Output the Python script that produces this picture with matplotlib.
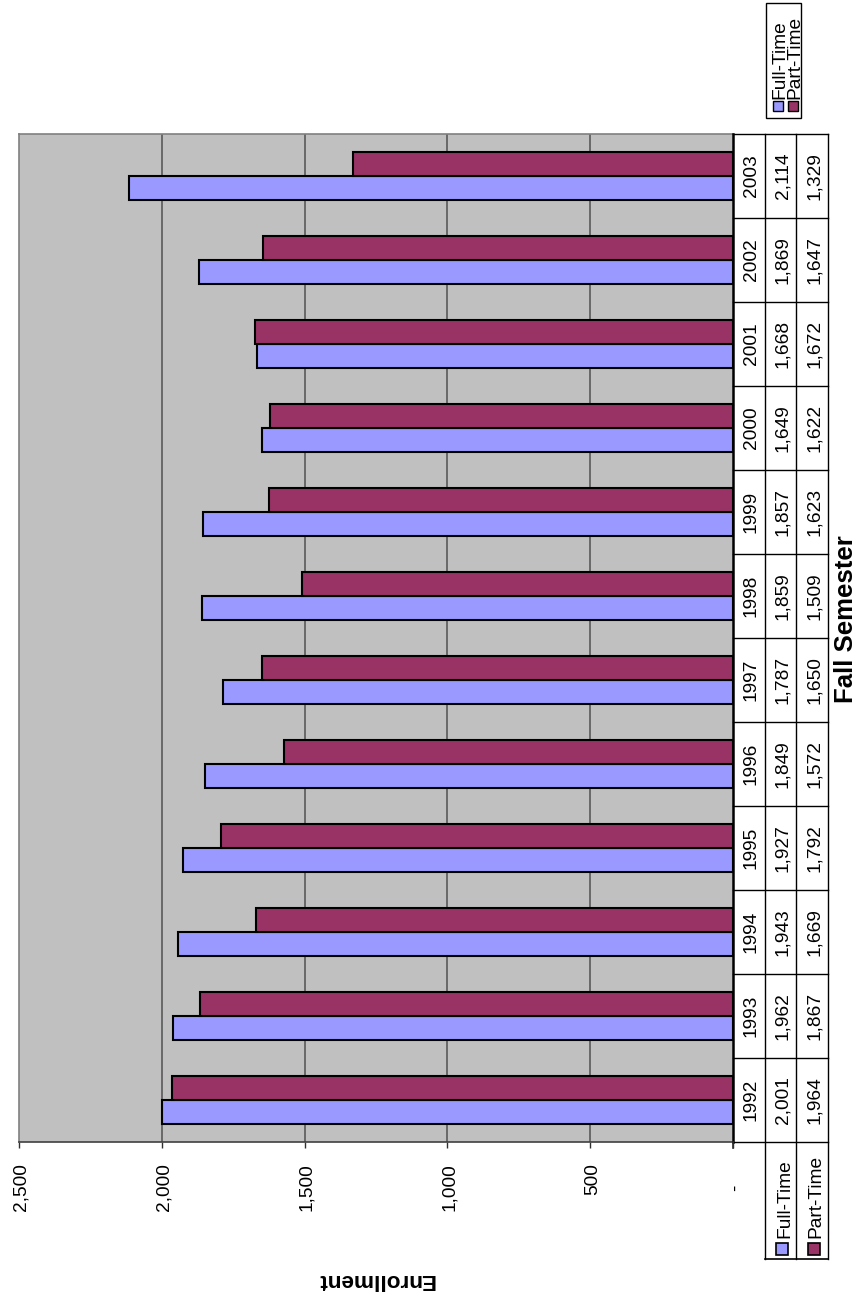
import matplotlib
matplotlib.use("Agg")
import matplotlib.pyplot as plt
from matplotlib.patches import Rectangle
from matplotlib.lines import Line2D
from matplotlib.transforms import blended_transform_factory, offset_copy

plt.rcParams['font.family'] = ['Liberation Sans', 'DejaVu Sans']

# enrollment by fall semester
years = ["1992", "1993", "1994", "1995", "1996", "1997",
         "1998", "1999", "2000", "2001", "2002", "2003"]
full_time = [2001, 1962, 1943, 1927, 1849, 1787, 1859, 1857, 1649, 1668, 1869, 2114]
part_time = [1964, 1867, 1669, 1792, 1572, 1650, 1509, 1623, 1622, 1672, 1647, 1329]
series_names = ["Full-Time", "Part-Time"]
value_ticks = [0, 500, 1000, 1500, 2000, 2500]
value_labels = ["-", "500", "1,000", "1,500", "2,000", "2,500"]

c_full = "#9999FF"
c_part = "#993366"
c_plot = "#C0C0C0"

W, H = 859, 1298
fig = plt.figure(figsize=(W / 100, H / 100), dpi=100)


def fx(x):
    return x / W


def fy(y):
    return 1 - y / H


FS = 13.8
cap = FS / 72 * 100 * 0.716   # cap height in pixels, used to centre sideways text

# chart layout in pixels (the whole chart is turned on its side)
p_left, p_right, p_top, p_bot = 19, 733, 134, 1142
t_right, t_bot = 828, 1259
n = len(years)
cat_px = (p_bot - p_top) / n

ax = fig.add_axes([fx(p_left), fy(p_bot), fx(p_right - p_left), (p_bot - p_top) / H])
ax.set_facecolor(c_plot)
ax.set_xlim(2500, 0)
ax.set_ylim(-0.5, n - 0.5)

bw = 0.285
pos = list(range(n))
ax.barh([p - bw / 2 for p in pos], full_time, height=bw, color=c_full,
        edgecolor="black", linewidth=1.5, zorder=3)
ax.barh([p + bw / 2 for p in pos], part_time, height=bw, color=c_part,
        edgecolor="black", linewidth=1.5, zorder=3)

ax.set_xticks(value_ticks)
ax.set_xticklabels([])
ax.set_yticks([])
ax.tick_params(axis="x", direction="out", length=4.3, width=1, color="#303030")
for v in value_ticks[1:-1]:
    ax.axvline(v, color="#505050", linewidth=1.1, zorder=1)
for s in ["left", "top"]:
    ax.spines[s].set_color("#808080")
    ax.spines[s].set_linewidth(1.2)
ax.spines["bottom"].set_color("#404040")
ax.spines["bottom"].set_linewidth(1.2)
ax.spines["right"].set_color("black")
ax.spines["right"].set_linewidth(1.8)
ax.spines["right"].set_zorder(5)

# value axis labels, read bottom to top
lab_tr = offset_copy(blended_transform_factory(ax.transData, fig.transFigure),
                     fig=fig, x=cap / 2, y=0, units="dots")
for v, lab in zip(value_ticks, value_labels):
    if lab == "-":
        ax.text(v, fy(1188), lab, transform=lab_tr, rotation=90, rotation_mode="anchor",
                ha="center", va="baseline", fontsize=FS)
    else:
        ax.text(v, fy(1163), lab, transform=lab_tr, rotation=90, rotation_mode="anchor",
                ha="right", va="baseline", fontsize=FS)

# data table next to the category axis
tab = fig.add_axes([fx(p_right), fy(t_bot), fx(t_right - p_right), (t_bot - p_top) / H])
tab.set_xlim(0, 3)
y_low = -0.5 - (t_bot - p_bot) / cat_px
tab.set_ylim(y_low, n - 0.5)
tab.axis("off")
lc = "black"
for k in range(n + 1):
    tab.add_line(Line2D([0, 3], [k - 0.5, k - 0.5], color=lc, linewidth=1, clip_on=False))
for xc in [1, 2, 3]:
    tab.add_line(Line2D([xc, xc], [y_low, n - 0.5], color=lc, linewidth=1, clip_on=False))
tab.add_line(Line2D([1, 3], [y_low, y_low], color=lc, linewidth=1.2, clip_on=False))
tab.add_line(Line2D([0, 0], [-0.5 - 6 / cat_px, -0.5], color="#303030", linewidth=1.2, clip_on=False))

cell_tr = offset_copy(tab.transData, fig=fig, x=cap / 2, y=0, units="dots")
for i in range(n):
    for xc, txt in zip([0.5, 1.5, 2.5], [years[i], f"{full_time[i]:,}", f"{part_time[i]:,}"]):
        tab.text(xc, i, txt, transform=cell_tr, rotation=90, rotation_mode="anchor",
                 ha="center", va="baseline", fontsize=FS)

# legend keys at the foot of the table
for xc, name, col in zip([1.5, 2.5], series_names, [c_full, c_part]):
    tab.plot([xc + 0.05], [y_low + 10 / cat_px], marker="s", markersize=8, markerfacecolor=col,
             markeredgecolor="black", markeredgewidth=1.2, clip_on=False)
    tab.text(xc + 0.05, y_low + 21 / cat_px, name, transform=cell_tr, rotation=90,
             rotation_mode="anchor", ha="left", va="baseline", fontsize=FS)

# legend box, top right
fig.add_artist(Rectangle((fx(766), fy(118)), fx(801 - 766), (118 - 3) / H,
                         facecolor="white", edgecolor="black", linewidth=1.0))
for xp, name, col in zip([777.5, 792.5], series_names, [c_full, c_part]):
    fig.add_artist(Rectangle((fx(xp - 5), fy(111)), fx(10), 10 / H,
                             facecolor=col, edgecolor="black", linewidth=1.0))
    fig.text(fx(xp + cap / 2), fy(99), name, rotation=90, rotation_mode="anchor",
             ha="left", va="baseline", fontsize=FS)

# axis titles
fig.text(fx(846), fy(619), "Fall Semester", rotation=90, ha="center", va="center",
         fontsize=18.5, fontweight="bold")
fig.text(fx(376), fy(1279), "Enrollment", rotation=180, ha="center", va="center",
         fontsize=16.2, fontweight="bold")

fig.savefig("out.png", dpi=100, facecolor="white")
